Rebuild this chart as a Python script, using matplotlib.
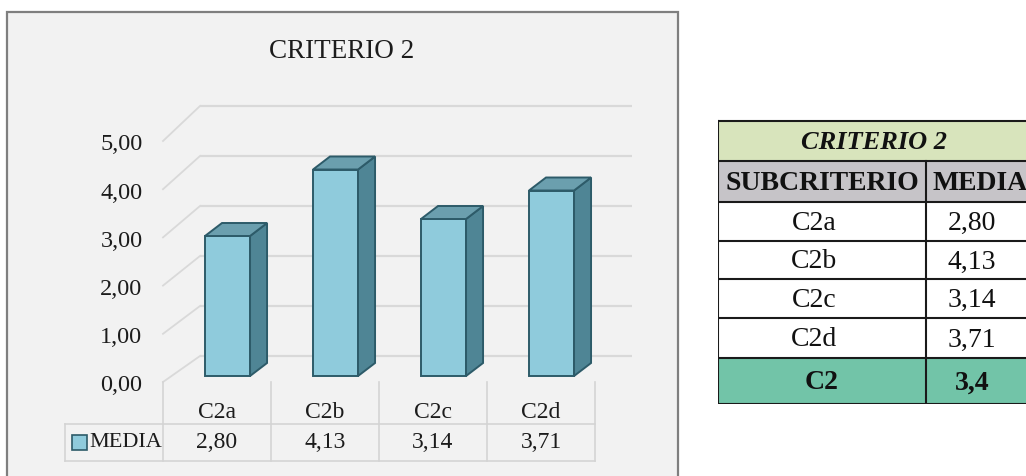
import numpy as np
import matplotlib
matplotlib.use("Agg")
import matplotlib.pyplot as plt
from matplotlib.patches import Rectangle, Polygon


# data
categories = ["C2a", "C2b", "C2c", "C2d"]
media = [2.80, 4.13, 3.14, 3.71]
y_ticks = [0, 1, 2, 3, 4, 5]
series_name = "MEDIA"
chart_title = "CRITERIO 2"
total_label = "C2"
total_media = 3.4

table_title = "CRITERIO 2"
table_header = ["SUBCRITERIO", "MEDIA"]


def fmt(v, nd=2):
    return f"{v:.{nd}f}".replace(".", ",")


W, H = 1026, 477
fig = plt.figure(figsize=(W / 100, H / 100), dpi=100)
fig.patch.set_facecolor("white")

# grey chart panel with frame
panel = Rectangle((7 / W, -0.05), 671 / W, 1.05 - 13 / H, transform=fig.transFigure,
                  facecolor="#f2f2f2", edgecolor="#7f7f7f", lw=1.6, zorder=-1)
fig.patches.append(panel)

# chart axes: x in category units, y in value units (back wall)
ax = fig.add_axes([0, 0, 1, 1])
ax.set_xlim(-163 / 108, (W - 163) / 108)
ax.set_ylim(-120 / 50, 357 / 50)
ax.axis("off")
ax.patch.set_alpha(0)

serif = "Liberation Serif"
txt_c = "#1c1c1c"
grid_c = "#d9d9d9"
back_dx = 37 / 108


def front_y(v):
    return 0.964 * v - 0.52


# gridlines on the back wall and the side wall
for v in y_ticks:
    ax.plot([back_dx, back_dx + len(categories)], [v, v], color=grid_c, lw=1.6,
            solid_capstyle="butt", zorder=1)
    ax.plot([0, back_dx], [front_y(v), v], color=grid_c, lw=1.3, zorder=1)
    ax.text(-0.19, front_y(v) - 0.06, fmt(v), ha="right", va="center",
            fontsize=17.5, family=serif, color=txt_c)

# 3d-looking bars
face_c = "#8fcbdc"
side_c = "#4f8595"
top_c = "#6b9fae"
edge_c = "#2d5b69"
bar_w = 0.417
bar_off = 0.389
base = -0.4
sx, sy = 17 / 108, 13 / 50

x_left = np.arange(len(categories)) + bar_off
ax.bar(x_left, media, width=bar_w, bottom=base, align="edge",
       color=face_c, edgecolor=edge_c, lw=1.4, zorder=3)
for xl, v in zip(x_left, media):
    xr = xl + bar_w
    top = base + v
    side = Polygon([(xr, base), (xr, top), (xr + sx, top + sy), (xr + sx, base + sy)],
                   closed=True, facecolor=side_c, edgecolor=edge_c, lw=1.4, zorder=3)
    cap = Polygon([(xl, top), (xr, top), (xr + sx, top + sy), (xl + sx, top + sy)],
                  closed=True, facecolor=top_c, edgecolor=edge_c, lw=1.4, zorder=4)
    ax.add_patch(side)
    ax.add_patch(cap)

# data table under the chart
tc = "#d4d4d4"
n = len(categories)
y_top, y_mid, y_bot = front_y(0), -1.36, -2.1
x_leg = -0.907
for i in range(n + 1):
    ax.plot([i, i], [y_top, y_bot], color=tc, lw=1.2, zorder=1)
ax.plot([x_leg, n], [y_mid, y_mid], color=tc, lw=1.2, zorder=1)
ax.plot([x_leg, n], [y_bot, y_bot], color=tc, lw=1.2, zorder=1)
ax.plot([x_leg, x_leg], [y_mid, y_bot], color=tc, lw=1.2, zorder=1)
for i, (c, v) in enumerate(zip(categories, media)):
    ax.text(i + 0.5, -1.1, c, ha="center", va="center", fontsize=17,
            family=serif, color=txt_c)
    ax.text(i + 0.5, -1.72, fmt(v), ha="center", va="center", fontsize=17,
            family=serif, color=txt_c)
ax.add_patch(Rectangle((-0.843, -1.87), 0.139, 0.3, facecolor=face_c,
                       edgecolor=edge_c, lw=1.2, zorder=3))
ax.text(-0.68, -1.72, series_name, ha="left", va="center", fontsize=16,
        family=serif, color=txt_c)

fig.text(342 / W, 1 - 52 / H, chart_title, ha="center", va="center",
         fontsize=19.5, family=serif, color=txt_c)

# summary table on the right
tx0, tx1, tcol = 718, 1030, 926
rows = [122, 162, 203, 242, 280, 319, 359, 405]
tab = fig.add_axes([tx0 / W, 1 - rows[-1] / H, (tx1 - tx0) / W, (rows[-1] - rows[0] + 4) / H])
tab.set_xlim(tx0, tx1)
tab.set_ylim(rows[-1], rows[0] - 4)
tab.axis("off")

fills = ["#d8e4bc", "#c6c4c8", "white", "white", "white", "white", "#72c4a8"]
for k in range(len(rows) - 1):
    tab.add_patch(Rectangle((tx0, rows[k]), tx1 - tx0, rows[k + 1] - rows[k],
                            facecolor=fills[k], edgecolor="none", zorder=1))
for r in rows:
    tab.plot([tx0, tx1], [r, r], color="#1a1a1a", lw=1.5, zorder=2)
tab.plot([tx0, tx0], [rows[0], rows[-1]], color="#1a1a1a", lw=1.5, zorder=2)
tab.plot([tcol, tcol], [rows[1], rows[-1]], color="#1a1a1a", lw=1.5, zorder=2)

c1 = (tx0 + tcol) / 2 - 8
c2 = 972
tab.text((tx0 + tx1) / 2, (rows[0] + rows[1]) / 2 + 1, table_title, ha="center", va="center",
         fontsize=19, family=serif, weight="bold", style="italic", color="#111111")
tab.text((tx0 + tcol) / 2, (rows[1] + rows[2]) / 2 + 1, table_header[0], ha="center",
         va="center", fontsize=20, family=serif, weight="bold", color="#111111")
tab.text(c2 + 8, (rows[1] + rows[2]) / 2 + 1, table_header[1], ha="center",
         va="center", fontsize=20, family=serif, weight="bold", color="#111111")
for k, (c, v) in enumerate(zip(categories, media)):
    yc = (rows[k + 2] + rows[k + 3]) / 2 + 1
    tab.text(c1, yc, c, ha="center", va="center", fontsize=20, family=serif, color="#111111")
    tab.text(c2, yc, fmt(v), ha="center", va="center", fontsize=20, family=serif,
             color="#111111")
yc = (rows[-2] + rows[-1]) / 2 + 1
tab.text(c1 + 8, yc, total_label, ha="center", va="center", fontsize=20, family=serif,
         weight="bold", color="#111111")
tab.text(c2, yc, fmt(total_media, 1), ha="center", va="center", fontsize=20,
         family=serif, weight="bold", color="#111111")

fig.savefig("out.png", dpi=100)
